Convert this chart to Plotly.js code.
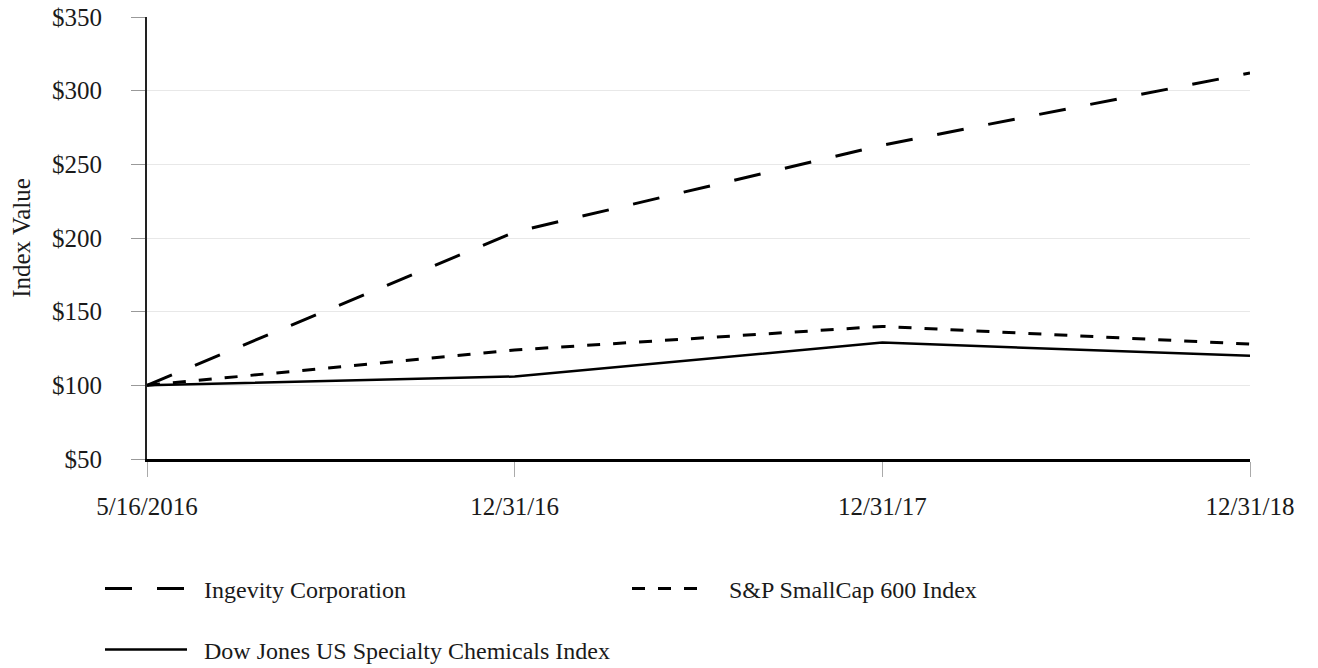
<!DOCTYPE html>
<html>
<head>
<meta charset="utf-8">
<script src="https://cdn.plot.ly/plotly-3.0.1.min.js"></script>
<style>html,body{margin:0;padding:0;background:#fff;}#chart{width:1318px;height:668px;}</style>
</head>
<body>
<div id="chart"></div>
<script>
const categories = ["5/16/2016", "12/31/16", "12/31/17", "12/31/18"];
const ingevity = [100, 204, 263, 312];
const spSmallCap = [100, 124, 140, 128];
const dowJones = [100, 106, 129, 120];
const seriesNames = ["Ingevity Corporation", "S&P SmallCap 600 Index", "Dow Jones US Specialty Chemicals Index"];
const yTickVals = [50, 100, 150, 200, 250, 300, 350];
const yTickText = ["$50", "$100", "$150", "$200", "$250", "$300", "$350"];

const FONT = "Liberation Serif, Times New Roman, serif";
const TXT = "#1a1a1a";
const NB = "\u00a0";
const traces = [
  {x: categories, y: ingevity, name: NB + NB + seriesNames[0], type: "scatter", mode: "lines",
   line: {color: "#000", width: 3, dash: "27px,25px"}, legend: "legend"},
  {x: categories, y: spSmallCap, name: NB + NB + NB + NB + seriesNames[1], type: "scatter", mode: "lines",
   line: {color: "#000", width: 3, dash: "13px,13px"}, legend: "legend2"},
  {x: categories, y: dowJones, name: NB + NB + seriesNames[2], type: "scatter", mode: "lines",
   line: {color: "#000", width: 2.5}, legend: "legend3"}
];
const legBase = {xref: "container", yref: "container", xanchor: "left", yanchor: "middle",
  orientation: "h", font: {family: FONT, size: 24, color: TXT}, bgcolor: "rgba(0,0,0,0)", itemwidth: 82};
const layout = {
  width: 1318, height: 668,
  margin: {l: 147, r: 68, t: 17, b: 209},
  paper_bgcolor: "#fff", plot_bgcolor: "#fff",
  font: {family: FONT, size: 25, color: TXT},
  showlegend: true,
  xaxis: {type: "category", range: [0, 3], showgrid: false, zeroline: false,
    showline: true, linecolor: "#000", linewidth: 3,
    ticks: "outside", ticklen: 15, tickcolor: "#aaa", tickwidth: 1,
    ticklabelstandoff: 8,
    tickfont: {family: FONT, size: 25, color: TXT}},
  yaxis: {range: [50, 350], tickvals: yTickVals, ticktext: yTickText,
    showgrid: true, gridcolor: "#e8e8e8", gridwidth: 1, zeroline: false,
    showline: true, linecolor: "#222", linewidth: 2,
    ticks: "outside", ticklen: 14, tickcolor: "#999", tickwidth: 1,
    ticklabelstandoff: 24,
    tickfont: {family: FONT, size: 25, color: TXT},
    title: {text: "Index Value", font: {family: FONT, size: 25, color: TXT}, standoff: 14}},
  legend: Object.assign({}, legBase, {x: 100/1318, y: 1 - 589/668}),
  legend2: Object.assign({}, legBase, {x: 627/1318, y: 1 - 589/668, itemwidth: 68}),
  legend3: Object.assign({}, legBase, {x: 100/1318, y: 1 - 650/668})
};
Plotly.newPlot("chart", traces, layout, {displayModeBar: false, staticPlot: true});
</script>
</body>
</html>
